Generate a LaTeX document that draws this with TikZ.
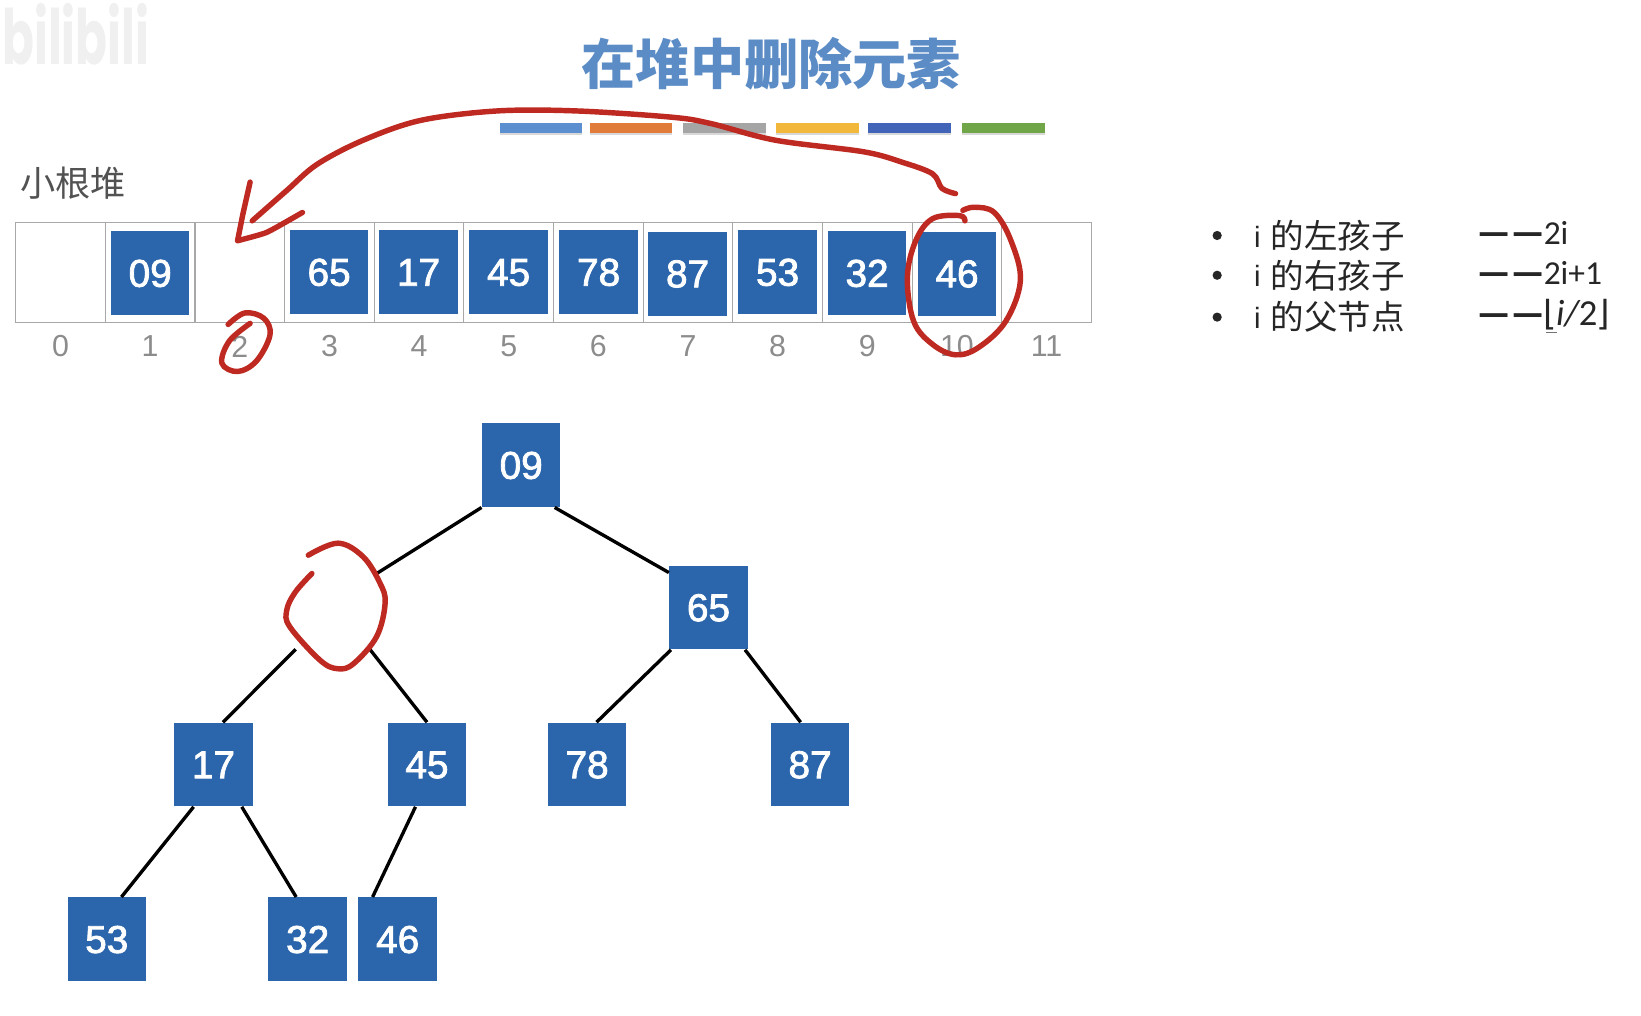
\documentclass[tikz,border=0pt]{standalone}
\usepackage{fontspec}
\setmainfont{Liberation Sans}
\newfontfamily\numf[FakeBold=2]{Liberation Sans}
\newfontfamily\cjk{Noto Sans CJK SC}
\newfontfamily\cali{Carlito}
\newfontfamily\dejav{DejaVu Sans}
\newfontfamily\poppin{Poppins}
\definecolor{sqblue}{HTML}{2B66AC}
\definecolor{redpen}{HTML}{BE2A22}
\definecolor{cellgray}{HTML}{A8A8A8}
\definecolor{idxgray}{HTML}{8C8C8C}
\definecolor{titleblue}{HTML}{5B8CC6}
\tikzset{
  sq/.style={fill=sqblue,text=white,minimum width=37.5pt,minimum height=40pt,inner sep=0pt,text height=13pt,text depth=0pt,font=\numf\fontsize{18.5}{20}\selectfont},
  cellbox/.style={draw=cellgray,line width=0.5pt,minimum width=42.83pt,minimum height=47.5pt,inner sep=0pt},
  idx/.style={text=idxgray,inner sep=0pt,font=\fontsize{14.5}{16}\selectfont},
  edge/.style={line width=1.6pt,black},
  pen/.style={draw=redpen,line width=2.6pt,line cap=round,line join=round},
  bar/.style={minimum width=39.5pt,minimum height=4.6pt,inner sep=0pt},
  barshadow/.style={fill=black!25,opacity=0.6,minimum width=39.5pt,minimum height=4.6pt,inner sep=0pt},
  cn/.style={inner sep=0pt,text=black!85,font=\cjk\fontsize{16}{18}\selectfont},
  formula/.style={anchor=west,inner sep=0pt,text=black!85,font=\fontsize{14.5}{18}\selectfont}
}
\newcommand{\twodash}{{\cjk\bfseries\fontsize{16.3}{18}\selectfont —\hspace{1.5pt}—}}
\begin{document}
\begin{tikzpicture}[x=0.5pt,y=-0.5pt]
\useasboundingbox[fill=white] (0,0) rectangle (1568,970);
% watermark
\node[anchor=west,inner sep=0pt,text=black!6,xscale=0.83,yscale=1.35,transform shape,font=\poppin\bfseries\fontsize{27}{30}\selectfont] (wm) at (2,33) {bilibili};
% title
\node[inner sep=0pt,text=titleblue,font=\cjk\bfseries\fontsize{25.9}{30}\selectfont] (title) at (737,61) {在堆中删除元素};
% colour bars
\foreach \n/\cx/\c in {a/517/5B8FCF,b/603/E07B39,c/692/A5A5A5,d/781/F2B83C,e/869/4264B8,f/959/70A548}{
  \node[barshadow] (shadow\n) at (\cx,124) {};
  \definecolor{barc}{HTML}{\c}
  \node[bar,fill=barc] (bar\n) at (\cx,122) {};
}
% label
\node[inner sep=0pt,text=black!68,font=\cjk\fontsize{16.8}{20}\selectfont] (small) at (70,175) {小根堆};
% array cells and indices
\foreach \i in {0,...,11}{
  \node[cellbox] (cell\i) at ({57.85+85.65*\i},260.5) {};
  \node[idx] (idx\i) at ({57.85+85.65*\i},331) {\i};
}
% array squares
\foreach \n/\cx/\cy/\t in {1/143.5/261/09,3/314.5/260/65,4/400/260/17,5/486/260/45,6/572/260/78,7/657/261.5/87,8/743/260/53,9/828.5/261/32,10/914.5/261.5/46}{
  \node[sq] (arr\n) at (\cx,\cy) {\t};
}
% tree
\node[sq] (n09) at (498,444.5) {09};
\node[minimum width=37pt,minimum height=35pt,inner sep=0pt] (hole) at (320,585) {};
\node[sq] (n65) at (677,580.5) {65};
\node[sq] (n17) at (204,730.5) {17};
\node[sq] (n45) at (408,730.5) {45};
\node[sq] (n78) at (561,730.5) {78};
\node[sq] (n87) at (774,730.5) {87};
\node[sq] (n53) at (102,897.5) {53};
\node[sq] (n32) at (294,897.5) {32};
\node[sq] (n46) at (380,897.5) {46};
\draw[edge] (n09.south west) -- (hole.north east);
\draw[edge] ([xshift=16pt]n09.south) -- ([yshift=-3.5pt]n65.north west);
\draw[edge] (hole.south west) -- ([xshift=4.5pt]n17.north);
\draw[edge] ([xshift=-2pt]hole.south east) -- (n45.north);
\draw[edge] ([xshift=1pt]n65.south west) -- ([xshift=4.5pt]n78.north);
\draw[edge] ([xshift=-1.5pt]n65.south east) -- ([xshift=-4.5pt]n87.north);
\draw[edge] ([xshift=-9.5pt]n17.south) -- ([xshift=7pt]n53.north);
\draw[edge] ([xshift=13.5pt]n17.south) -- ([xshift=-5.5pt]n32.north);
\draw[edge] ([xshift=-5.5pt]n45.south) -- ([xshift=-12pt]n46.north);
% list
\foreach \n/\y/\t in {p/225/左孩子,q/263/右孩子,r/303/父节点}{
  \node[inner sep=0pt,circle,fill=black!85,minimum size=4.4pt] (bul\n) at (1163,\y) {};
  \node[anchor=west,inner sep=0pt,text=black!85,font=\fontsize{14}{18}\selectfont] (i\n) at (1198,\y+1) {i};
  \node[anchor=west,cn] (t\n) at (1214,\y) {的\t};
}
\node[formula] (fp) at (1412,223) {\twodash{\cali\fontsize{16}{18}\selectfont 2i}};
\node[formula] (fq) at (1412,261) {\twodash{\cali\fontsize{16}{18}\selectfont 2i+1}};
\node[formula] (fr) at (1412,301) {\twodash{\dejav\fontsize{16.5}{18}\selectfont ⌊\hspace{-0.5pt}}{\cali\itshape\fontsize{17.5}{18}\selectfont i/}{\cali\fontsize{17.5}{18}\selectfont 2}{\dejav\fontsize{16.5}{18}\selectfont \hspace{-0.5pt}⌋}};
\draw[black!55,line width=0.5pt] (1477,318) -- (1488,318);
% red ink
\draw[pen] plot[smooth,tension=0.55] coordinates {(913,185) (900,180) (891,166) (862,155) (825,145) (741,134) (679,118) (642,112) (551,106) (475,106) (402,115) (347,134) (303,157) (274,182) (241,211)};
\draw[pen] plot[smooth,tension=0.3] coordinates {(239,174) (232,205) (227,230)} plot[smooth,tension=0.3] coordinates {(227,230) (255,222) (289,203)};
\draw[pen] plot[smooth,tension=0.6] coordinates {(922,211) (917,206) (891,209) (875,230) (867,265) (873,307) (891,329) (913,339) (935,332) (961,307) (975,268) (966,230) (950,203) (931,198) (920,201)};
\draw[pen] plot[smooth,tension=0.6] coordinates {(218,310) (234,299) (252,304) (258,320) (245,345) (227,355) (212,347) (219,326) (239,309)};
\draw[pen] plot[smooth,tension=0.6] coordinates {(294.6,530.5) (323,519) (347,532) (363,557) (368,576) (360,608) (338,634) (323,639) (306,631) (277,599) (274,583) (282,566) (298,548)};
\end{tikzpicture}
\end{document}
